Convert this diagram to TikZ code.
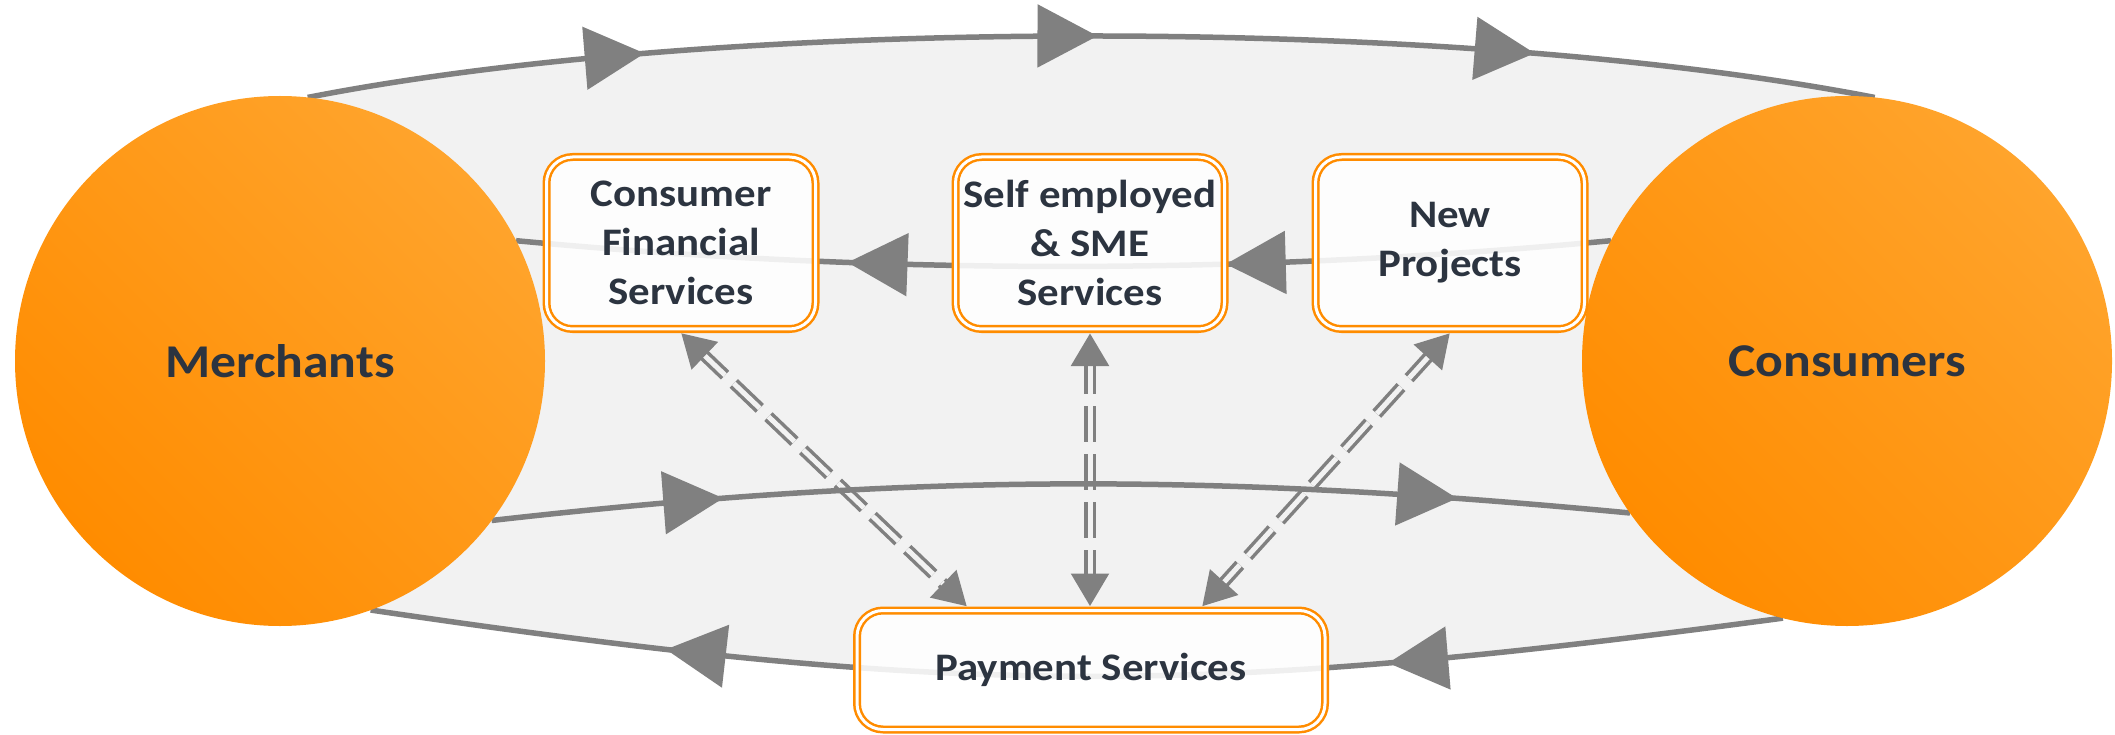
\documentclass[tikz,border=0pt]{standalone}
\usepackage{fontspec}
\newfontfamily\lab[FakeStretch=1.1]{Carlito}
\usetikzlibrary{arrows.meta,decorations.markings,calc}
\definecolor{conn}{HTML}{808080}
\definecolor{bgfill}{HTML}{F2F2F2}
\definecolor{orng}{HTML}{FF8C00}
\definecolor{orngl}{HTML}{FFA42C}
\definecolor{ink}{HTML}{2C3440}
\pgfdeclarelayer{bglow}
\pgfdeclarelayer{bgmid}
\pgfsetlayers{bglow,bgmid,main}
\tikzset{
  bigtip/.tip={Triangle[length=60pt,width=62pt]},
  smalltip/.tip={Triangle[length=33pt,width=36pt]},
  hub/.style={circle, minimum size=530pt, inner sep=0pt, outer sep=0pt,
    left color=orng, right color=orngl, shading angle=135,
    font={\lab\bfseries\fontsize{47pt}{56pt}\selectfont}, text=ink},
  svc/.style={rounded corners=26pt, draw=orng, line width=2.5pt,
    double=white, double distance=3pt, fill=white, fill opacity=0.88,
    text opacity=1, minimum width=269pt, minimum height=172pt,
    inner sep=0pt, outer sep=4pt, align=center, text=ink,
    font={\lab\bfseries\fontsize{39pt}{49pt}\selectfont}},
  flow/.style={draw=conn, line width=5.5pt, postaction={decorate}},
  dconn/.style={draw=conn, line width=3.5pt, double=bgfill,
    double distance=5pt, dash pattern=on 36pt off 12pt,
    shorten <=25pt, shorten >=25pt, postaction={decorate},
    decoration={markings,
      mark=at position 0 with {\arrowreversed{smalltip}},
      mark=at position 1 with {\arrow{smalltip}}}}
}
\begin{document}
\begin{tikzpicture}[x=1pt,y=-1pt]
\useasboundingbox (0,0) rectangle (2115,735);
% hubs
\node[hub] (merch) at (280,361) {Merchants};
\node[hub] (cons) at (1847,361) {Consumers};
% service boxes
\node[svc] (cfs) at (681,243) {Consumer\\Financial\\Services};
\node[svc] (sme) at (1090,243) {Self employed\\\& SME\\Services};
\node[svc] (np) at (1450,243) {New\\Projects};
\node[svc, minimum width=468pt, minimum height=119pt] (ps) at (1091,670) {Payment Services};

\begin{pgfonlayer}{bglow}
  \fill[white] (0,0) rectangle (2115,735);
  \fill[bgfill] (merch.84.6) .. controls (725,15.5) and (1453,15.5) .. (cons.84.4)
     -- (cons.center) -- (cons.-104.2) .. controls (1192,697) and (961,697) .. (merch.-70)
     -- (merch.center) -- cycle;
\end{pgfonlayer}

\begin{pgfonlayer}{bgmid}
  % dashed double connectors
  \draw[dconn] (cfs.south) -- ($(ps.north)+(-124,0)$);
  \draw[dconn] (sme.south) -- (sme.south |- ps.north);
  \draw[dconn] (np.south) -- ($(ps.north)+(111,0)$);
  % top flow: merchants -> consumers
  \draw[flow, decoration={markings,
      mark=at position 0.216 with {\arrow{bigtip}},
      mark=at position 0.504 with {\arrow{bigtip}},
      mark=at position 0.782 with {\arrow{bigtip}}}]
    (merch.84.6) .. controls (725,15.5) and (1453,15.5) .. (cons.84.4);
  % middle flow: consumers -> merchants through boxes
  \draw[flow, decoration={markings,
      mark=at position 0.352 with {\arrow{bigtip}},
      mark=at position 0.697 with {\arrow{bigtip}}}]
    (cons.153.1) .. controls (1245,275) and (880,275) .. (merch.27.4);
  % lower middle flow: merchants -> consumers
  \draw[flow, decoration={markings,
      mark=at position 0.204 with {\arrow{bigtip}},
      mark=at position 0.848 with {\arrow{bigtip}}}]
    (merch.-37.6) .. controls (910,473) and (1210,473) .. (cons.-145);
  % bottom flow: consumers -> merchants through payment services
  \draw[flow, decoration={markings,
      mark=at position 0.28 with {\arrow{bigtip}},
      mark=at position 0.79 with {\arrow{bigtip}}}]
    (cons.-104.2) .. controls (1192,697) and (961,697) .. (merch.-70);
\end{pgfonlayer}
\end{tikzpicture}
\end{document}
